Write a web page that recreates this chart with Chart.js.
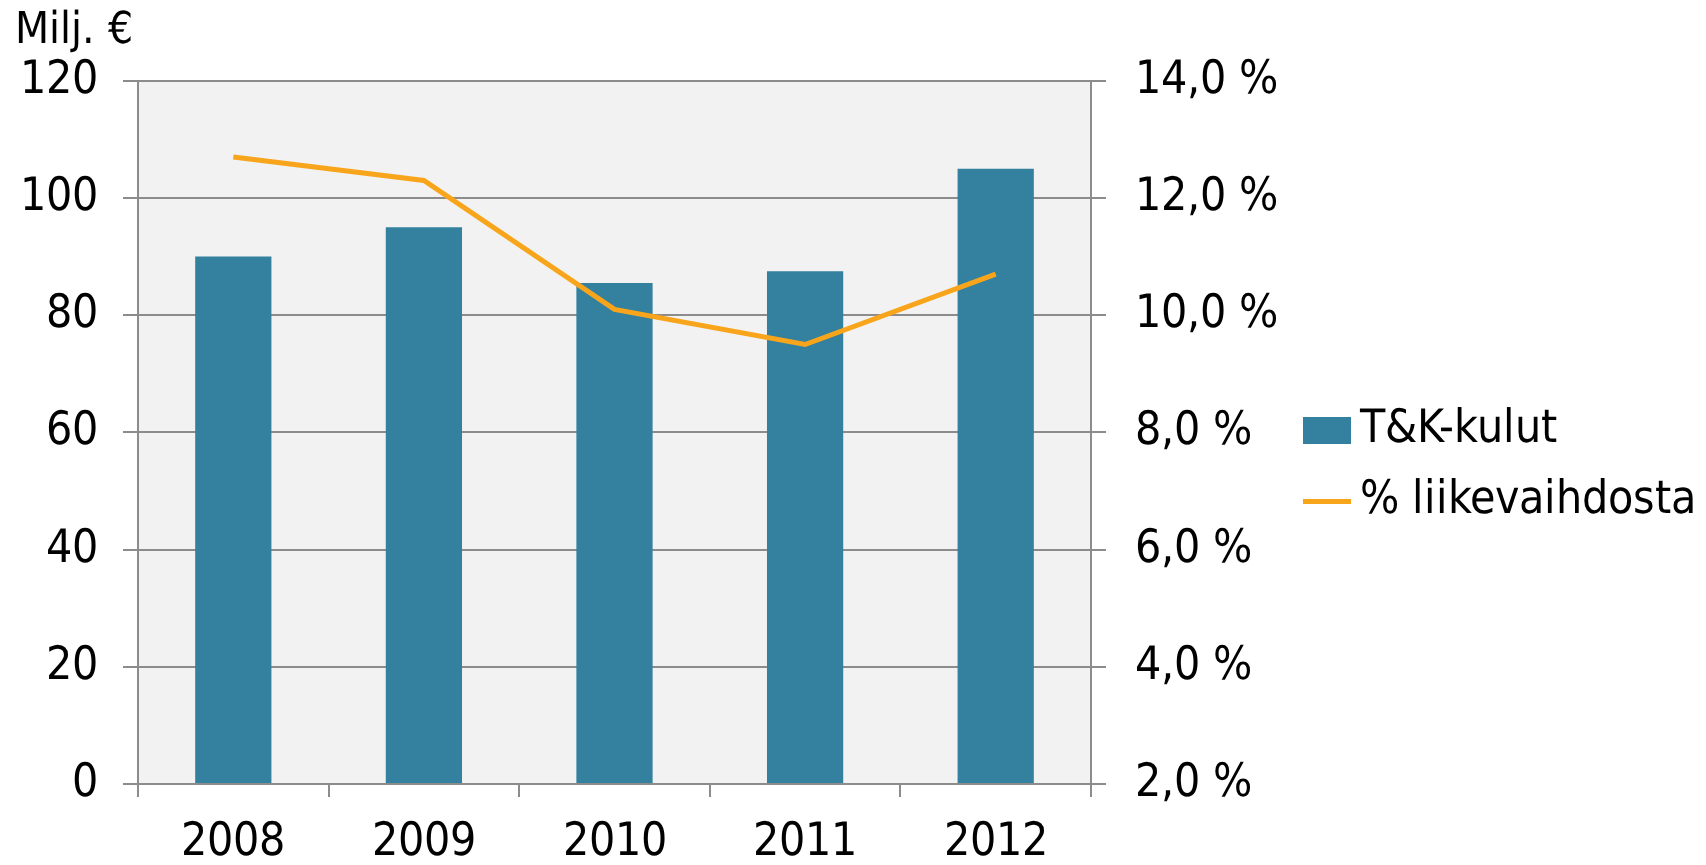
<!DOCTYPE html>
<html>
<head>
<meta charset="utf-8">
<script src="https://cdn.jsdelivr.net/npm/chart.js@4"></script>
<style>
  @font-face {
    font-family: 'DVCond';
    src: local('DejaVu Sans Condensed'), local('DejaVuSansCondensed');
  }
  html, body { margin: 0; padding: 0; background: #fff; }
  #wrap { width: 1706px; height: 865px; }
</style>
</head>
<body>
<div id="wrap"><canvas id="myChart" width="1706" height="865"></canvas></div>
<script>
// Vuodet, T&K-kulut (milj. €) ja osuus liikevaihdosta (%)
var years = ['2008', '2009', '2010', '2011', '2012'];
var rdCosts = [90, 95, 85.5, 87.5, 105];
var pctOfRevenue = [12.7, 12.3, 10.1, 9.5, 10.7];

var FONT = "DVCond, 'DejaVu Sans Condensed', 'DejaVu Sans', sans-serif";
var BAR_COLOR = '#33809f';
var LINE_COLOR = '#f8a51b';

// Harmaa tausta piirtoalueelle
var plotBg = {
  id: 'plotBg',
  beforeDraw: function(chart) {
    var a = chart.chartArea, ctx = chart.ctx;
    ctx.save();
    ctx.fillStyle = '#f2f2f2';
    ctx.fillRect(a.left, a.top, a.right - a.left, a.bottom - a.top);
    ctx.restore();
  }
};

// Selitteen merkit (laatikko ja viiva) pieninä canvaksina
function swatch(w, h, color) {
  var c = document.createElement('canvas');
  c.width = w;
  c.height = h;
  var g = c.getContext('2d');
  g.fillStyle = color;
  g.fillRect(0, 0, w, h);
  return c;
}

var chart;

function createChart() {
  Chart.defaults.font.family = FONT;
  Chart.defaults.color = '#000';

  var barMark = swatch(48, 27, BAR_COLOR);
  var lineMark = swatch(48, 5, LINE_COLOR);

  var ctx = document.getElementById('myChart').getContext('2d');
  chart = new Chart(ctx, {
    type: 'bar',
    data: {
      labels: years,
      datasets: [
        {
          label: 'T&K-kulut',
          data: rdCosts,
          backgroundColor: BAR_COLOR,
          borderWidth: 0,
          categoryPercentage: 1,
          barPercentage: 0.4,
          yAxisID: 'y',
          order: 1
        },
        {
          type: 'line',
          label: '% liikevaihdosta',
          data: pctOfRevenue,
          borderColor: LINE_COLOR,
          backgroundColor: LINE_COLOR,
          borderWidth: 5,
          pointRadius: 0,
          tension: 0,
          yAxisID: 'y1',
          order: 0
        }
      ]
    },
    options: {
      responsive: false,
      animation: false,
      layout: { padding: { left: 15, right: 0, top: 0, bottom: 0 } },
      plugins: {
        tooltip: { enabled: false },
        title: {
          display: true,
          text: 'Milj. €',
          align: 'start',
          color: '#000',
          font: { size: 44, weight: 'normal', lineHeight: 1.2 },
          padding: { top: 5, bottom: 23 }
        },
        legend: {
          position: 'right',
          maxWidth: 440,
          title: { display: true, text: '', font: { size: 10, lineHeight: 1 }, padding: { top: 30, bottom: 26 } },
          labels: {
            usePointStyle: true,
            pointStyleWidth: 20,
            padding: 25,
            color: '#000',
            font: { size: 46 },
            sort: function(a, b) { return a.datasetIndex - b.datasetIndex; },
            generateLabels: function(chart) {
              var items = Chart.defaults.plugins.legend.labels.generateLabels(chart);
              items.forEach(function(it) {
                it.pointStyle = it.datasetIndex === 0 ? barMark : lineMark;
                it.lineWidth = 0;
              });
              return items;
            }
          }
        }
      },
      scales: {
        x: {
          offset: true,
          afterFit: function(scale) { scale.height = 81; },
          grid: {
            offset: true,
            drawOnChartArea: false,
            color: '#8c8c8c',
            lineWidth: 2,
            tickLength: 13,
            tickWidth: 2
          },
          border: { display: true, color: '#8c8c8c', width: 2 },
          ticks: {
            padding: 23,
            color: '#000',
            font: { size: 46, lineHeight: 1 }
          }
        },
        y: {
          position: 'left',
          min: 0,
          max: 120,
          afterFit: function(scale) { scale.width = 123; },
          grid: {
            color: '#8c8c8c',
            lineWidth: 2,
            tickLength: 15
          },
          border: { display: true, color: '#8c8c8c', width: 2 },
          ticks: {
            stepSize: 20,
            padding: 25,
            color: '#000',
            font: { size: 46 }
          }
        },
        y1: {
          position: 'right',
          min: 2,
          max: 14,
          afterFit: function(scale) { scale.width = 201; },
          grid: {
            drawOnChartArea: false,
            color: '#8c8c8c',
            lineWidth: 2,
            tickLength: 15
          },
          border: { display: true, color: '#8c8c8c', width: 2 },
          ticks: {
            stepSize: 2,
            padding: 29,
            color: '#000',
            font: { size: 46 },
            callback: function(v) { return v.toFixed(1).replace('.', ',') + ' %'; }
          }
        }
      }
    },
    plugins: [plotBg]
  });
}

// Odotetaan fonttia ennen piirtoa
document.fonts.load("46px DVCond").then(createChart, createChart);
</script>
</body>
</html>
